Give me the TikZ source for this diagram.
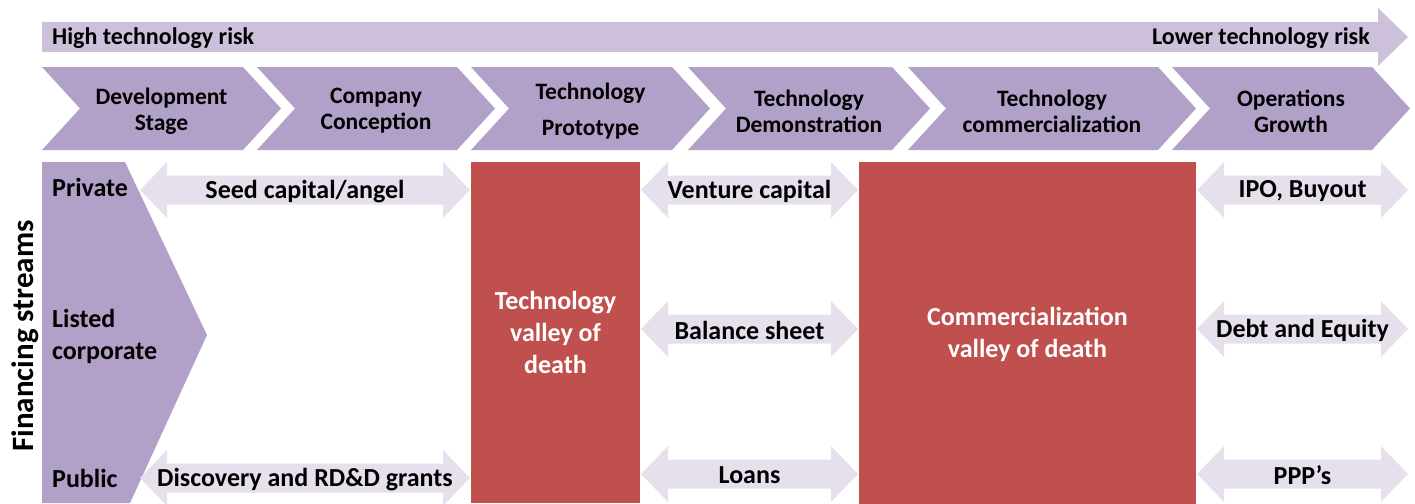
\documentclass[tikz,border=0pt]{standalone}
\usepackage{fontspec}
\setmainfont{Carlito}
\usetikzlibrary{positioning}
\definecolor{lilac}{HTML}{B1A0C7}
\definecolor{palelilac}{HTML}{CCC0DA}
\definecolor{mistlilac}{HTML}{E6E0EC}
\definecolor{deathred}{HTML}{C0504D}

\begin{document}
\begin{tikzpicture}[x=1pt, y=-1pt, every node/.style={inner sep=0pt},
    band/.style={fill=palelilac},
    stage/.style={fill=lilac},
    fund/.style={fill=mistlilac},
    risktext/.style={font=\fontsize{24}{28}\selectfont\bfseries},
    stagetext/.style={align=center, font=\fontsize{23.5}{26}\selectfont\bfseries},
    fundtext/.style={align=left, font=\fontsize{26}{32}\selectfont\bfseries},
    valley/.style={fill=deathred, text=white, align=center, font=\fontsize{26}{32}\selectfont\bfseries}]
    \useasboundingbox (0,0) rectangle (1415,503);

    % risk band
    \fill[band] (42,22) -- (1378,22) -- (1378,8) -- (1408,37) -- (1378,66) -- (1378,52) -- (42,52) -- cycle;
    \node[risktext, anchor=west] (highrisk) at (52,38.5) {High technology risk};
    \node[risktext, anchor=east] (lowrisk) at (1370,38.5) {Lower technology risk};

    % stages
    \foreach \l/\r/\name/\txt in {42/243/devel/{Development\\Stage}, 257/457/conception/{Company\\Conception}, 471/672/prototype/{Technology\\[10pt]Prototype}, 688/892/demo/{Technology\\Demonstration}, 908/1158/commerce/{Technology\\commercialization}, 1172/1372/growth/{Operations\\Growth}}{
        \fill[stage] (\l,67) -- (\r,67) -- ({\r+38},108.5) -- (\r,150) -- (\l,150) -- ({\l+38},108.5) -- cycle;
        \node[stagetext] (\name) at ({(\l+\r)/2+19},111) {\txt};
    }

    % financing streams
    \fill[stage] (42,162) -- (125,162) -- (207,335) -- (130,503) -- (42,503) -- cycle;
    \node[font=\fontsize{31}{36}\selectfont\bfseries, rotate=90] (streams) at (25,336) {Financing streams};
    \node[fundtext, anchor=west] (private) at (52,187) {Private};
    \node[fundtext, anchor=west] (listed) at (52,336) {Listed\\corporate};
    \node[fundtext, anchor=west] (public) at (52,478) {Public};

    % valleys of death
    \node[valley, minimum width=169pt, minimum height=341pt] (techvalley) at (555.5,332.5) {Technology\\valley of\\death};
    \node[valley, minimum width=337pt, minimum height=344pt] (commvalley) at (1027.5,334) {Commercialization\\valley of death};

    % funding arrows
    \foreach \xa/\xb/\y/\name/\txt in {140/470/190/seed/{Seed capital/angel}, 140/470/478/grants/{Discovery and RD\&D grants}, 641/858/190/venture/{Venture capital}, 641/858/329/balance/{Balance sheet}, 641/858/474/loans/{Loans}, 1197/1408/190/ipo/{IPO, Buyout}, 1197/1408/329/debt/{Debt and Equity}, 1197/1408/474/ppp/{PPP’s}}{
        \fill[fund] (\xa,\y) -- ({\xa+27},{\y-28}) -- ({\xa+27},{\y-14.5}) -- ({\xb-27},{\y-14.5}) -- ({\xb-27},{\y-28}) -- (\xb,\y) -- ({\xb-27},{\y+28}) -- ({\xb-27},{\y+14.5}) -- ({\xa+27},{\y+14.5}) -- ({\xa+27},{\y+28}) -- cycle;
        \node[fundtext] (\name) at ({(\xa+\xb)/2},{\y+1.5}) {\txt};
    }
\end{tikzpicture}
\end{document}
